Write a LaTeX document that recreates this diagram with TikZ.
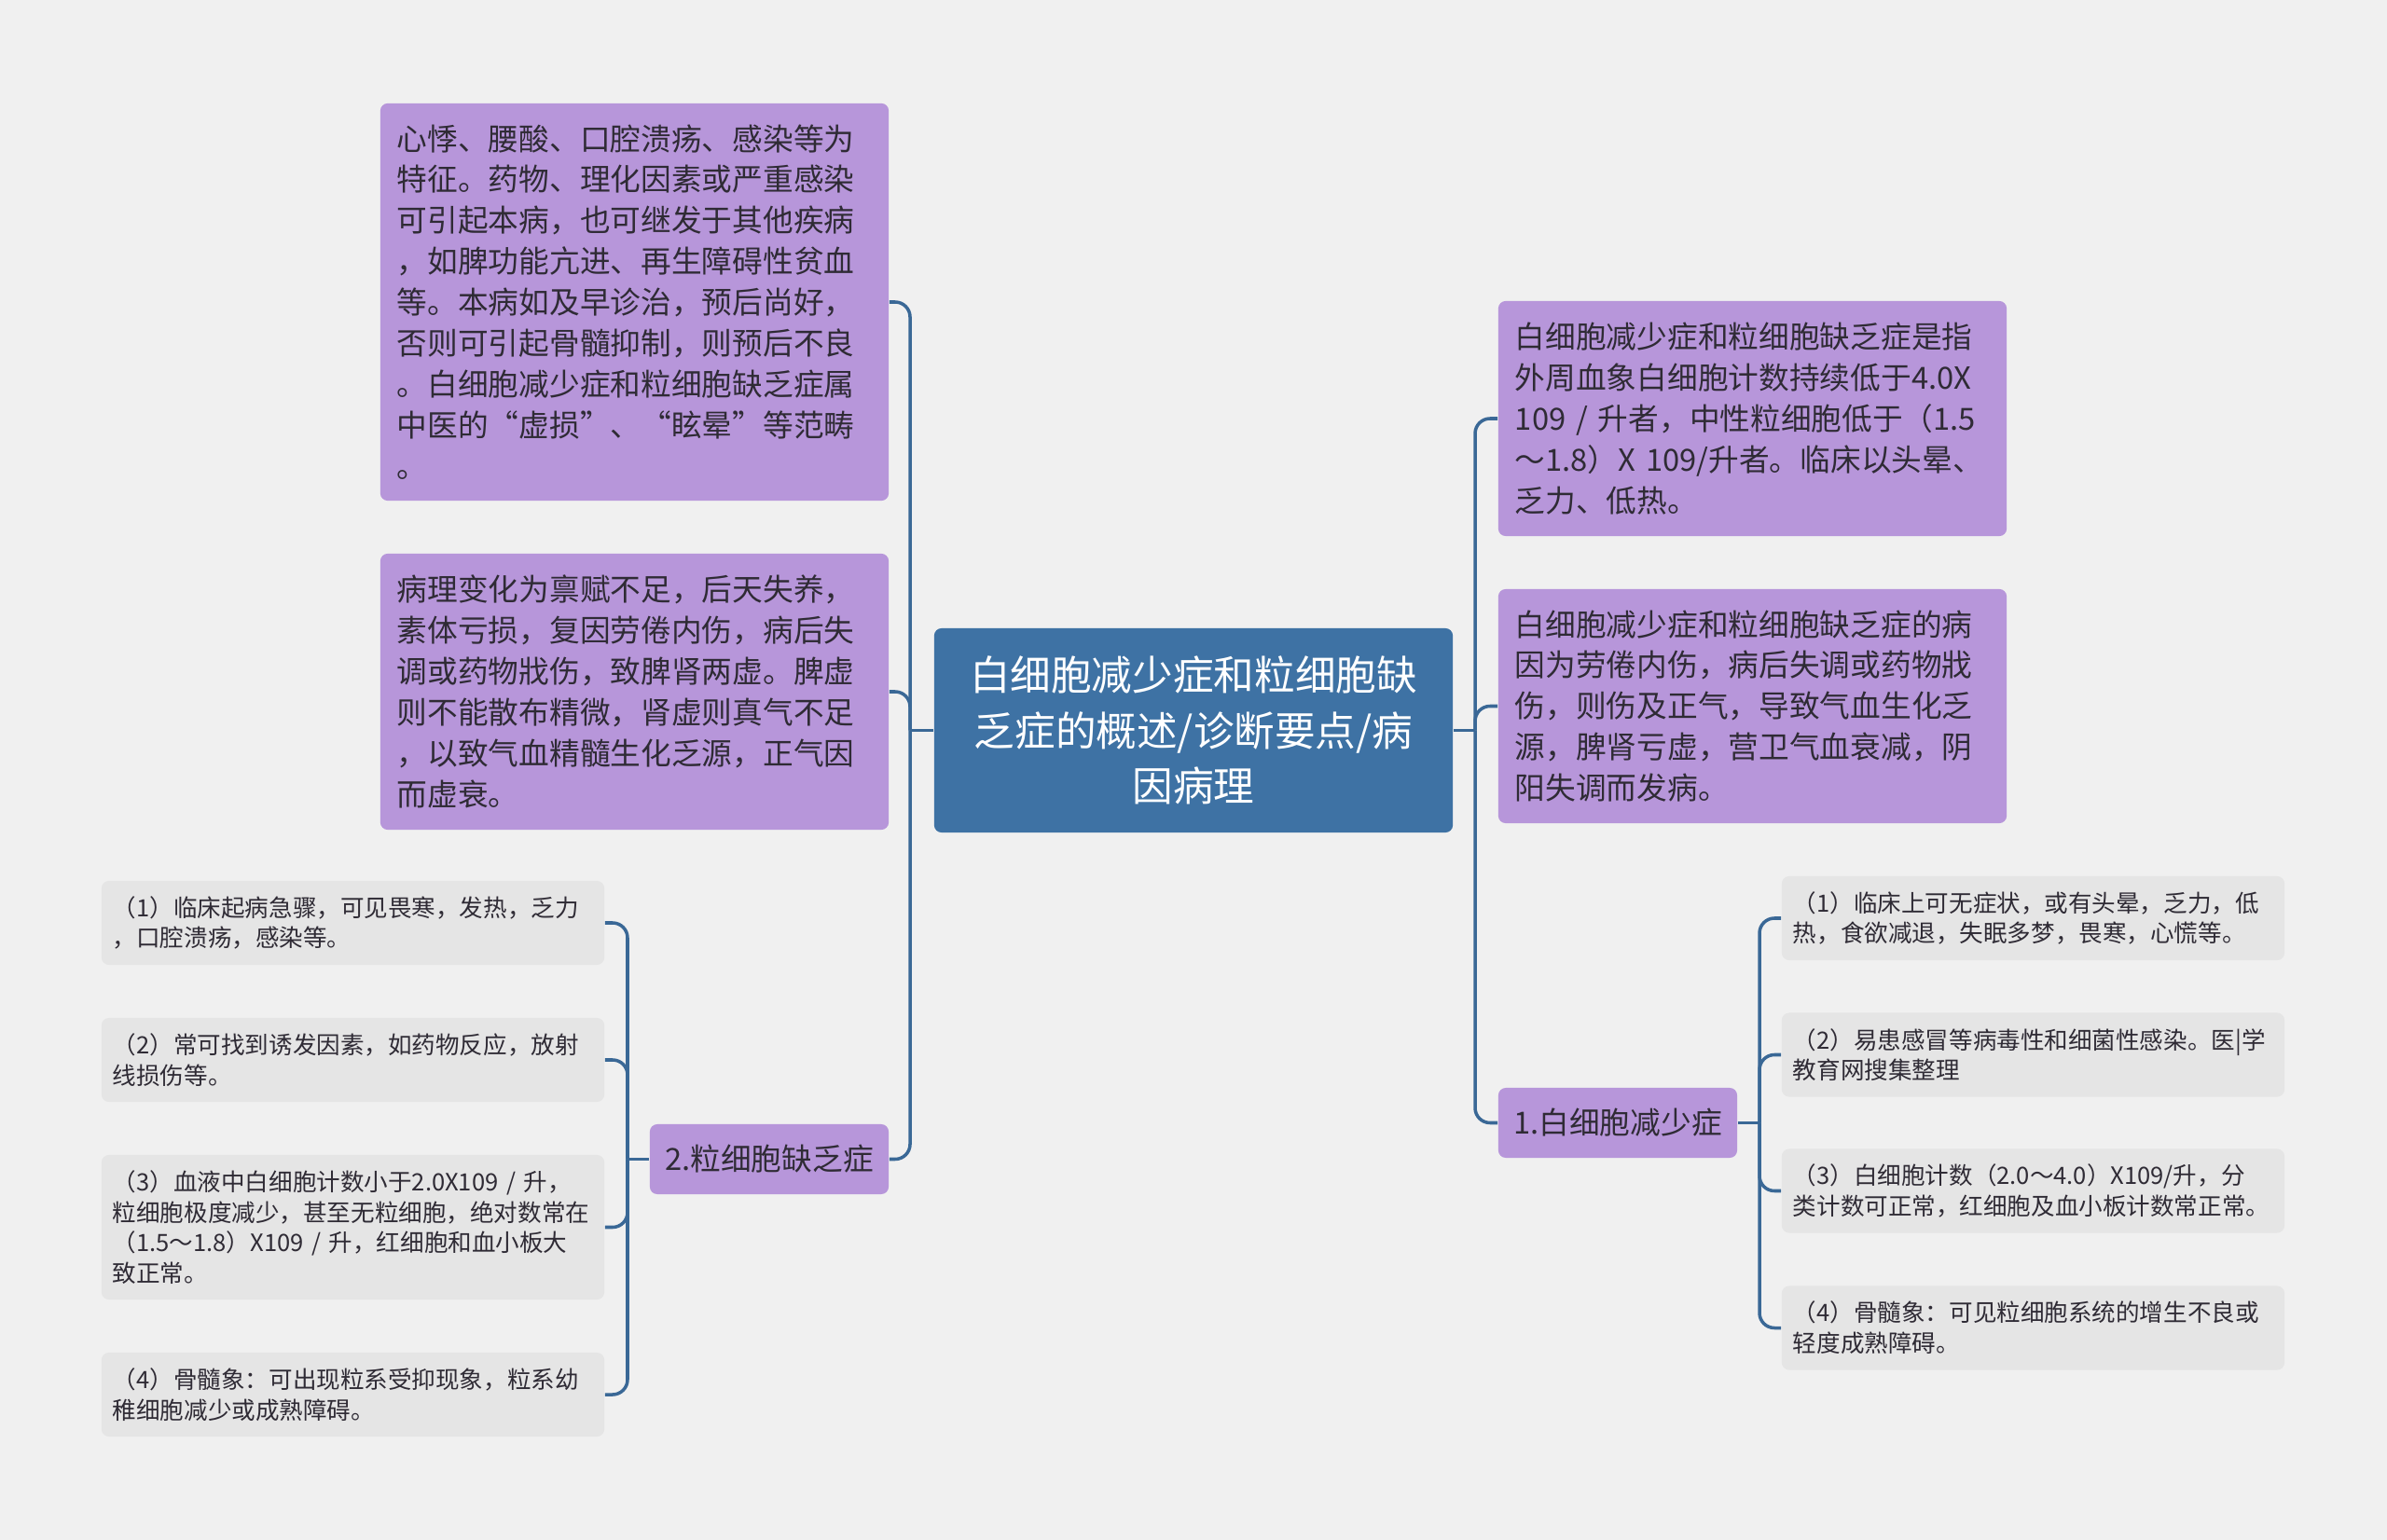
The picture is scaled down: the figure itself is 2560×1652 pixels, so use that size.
\documentclass[tikz,border=0pt]{standalone}
\usepackage{fontspec}
\setmainfont{Noto Sans CJK SC}
\usetikzlibrary{positioning}
\definecolor{bgc}{HTML}{F0F0F0}
\definecolor{hubc}{HTML}{3E72A4}
\definecolor{topc}{HTML}{B796DA}
\definecolor{leafc}{HTML}{E5E5E5}
\definecolor{linkc}{HTML}{3A6896}
\definecolor{txtc}{HTML}{2F2B35}

\begin{document}
\begin{tikzpicture}[x=0.01cm,y=-0.01cm,
    hub/.style={fill=hubc,text=white,rounded corners=0.08cm,align=center,text width=5.2cm,minimum width=5.56cm,minimum height=2.19cm,font=\fontsize{12.4}{16.9}\selectfont},
    topic/.style={fill=topc,text=txtc,rounded corners=0.08cm,align=left,text width=5.09cm,inner xsep=0.18cm,font=\fontsize{9.3}{12.5}\selectfont},
    branch/.style={fill=topc,text=txtc,rounded corners=0.08cm,minimum width=2.56cm,minimum height=0.75cm,font=\fontsize{9.3}{12.5}\selectfont},
    leaf/.style={fill=leafc,text=txtc,rounded corners=0.08cm,align=left,text width=5.15cm,inner xsep=0.12cm,minimum height=0.9cm,font=\fontsize{7.27}{9.3}\selectfont},
    link/.style={draw=linkc,line width=1pt,rounded corners=0.16cm}]
    \useasboundingbox[fill=bgc] (0,0) rectangle (2560,1652);

    \node[hub] (c) at (1280,783.5) {白细胞减少症和粒细胞缺\\乏症的概述/诊断要点/病\\因病理};

    \node[topic,minimum height=4.26cm] (l1) at (680.5,324) {心悸、腰酸、口腔溃疡、感染等为\\特征。药物、理化因素或严重感染\\可引起本病，也可继发于其他疾病\\，如脾功能亢进、再生障碍性贫血\\等。本病如及早诊治，预后尚好，\\否则可引起骨髓抑制，则预后不良\\。白细胞减少症和粒细胞缺乏症属\\中医的“虚损”、“眩晕”等范畴\\。};
    \node[topic,minimum height=2.96cm] (l2) at (680.5,742) {病理变化为禀赋不足，后天失养，\\素体亏损，复因劳倦内伤，病后失\\调或药物戕伤，致脾肾两虚。脾虚\\则不能散布精微，肾虚则真气不足\\，以致气血精髓生化乏源，正气因\\而虚衰。};
    \node[branch] (b2) at (825,1243.5) {2.粒细胞缺乏症};

    \node[topic,minimum height=2.52cm] (r1) at (1879.5,449) {白细胞减少症和粒细胞缺乏症是指\\外周血象白细胞计数持续低于4.0X\\109 / 升者，中性粒细胞低于（1.5\\～1.8）X 109/升者。临床以头晕、\\乏力、低热。};
    \node[topic,minimum height=2.51cm] (r2) at (1879.5,757.5) {白细胞减少症和粒细胞缺乏症的病\\因为劳倦内伤，病后失调或药物戕\\伤，则伤及正气，导致气血生化乏\\源，脾肾亏虚，营卫气血衰减，阴\\阳失调而发病。};
    \node[branch] (b1) at (1735,1204.5) {1.白细胞减少症};

    \node[leaf] (ll1) at (378.5,990) {（1）临床起病急骤，可见畏寒，发热，乏力\\，口腔溃疡，感染等。};
    \node[leaf] (ll2) at (378.5,1137) {（2）常可找到诱发因素，如药物反应，放射\\线损伤等。};
    \node[leaf,minimum height=1.55cm] (ll3) at (378.5,1316.5) {（3）血液中白细胞计数小于2.0X109 / 升，\\粒细胞极度减少，甚至无粒细胞，绝对数常在\\（1.5～1.8）X109 / 升，红细胞和血小板大\\致正常。};
    \node[leaf] (ll4) at (378.5,1496) {（4）骨髓象：可出现粒系受抑现象，粒系幼\\稚细胞减少或成熟障碍。};

    \node[leaf] (rl1) at (2180.5,985) {（1）临床上可无症状，或有头晕，乏力，低\\热，食欲减退，失眠多梦，畏寒，心慌等。};
    \node[leaf] (rl2) at (2180.5,1131.5) {（2）易患感冒等病毒性和细菌性感染。医|学\\教育网搜集整理};
    \node[leaf] (rl3) at (2180.5,1277.5) {（3）白细胞计数（2.0～4.0）X109/升，分\\类计数可正常，红细胞及血小板计数常正常。};
    \node[leaf] (rl4) at (2180.5,1424.5) {（4）骨髓象：可见粒细胞系统的增生不良或\\轻度成熟障碍。};

    \coordinate (lj) at (976,783.5);
    \coordinate (rj) at (1582,783.5);
    \coordinate (bj2) at (673,1243.5);
    \coordinate (bj1) at (1887,1204.5);

    \draw[link] (c.west) -- (lj);
    \draw[link] (lj) |- (l1.east);
    \draw[link] (lj) |- (l2.east);
    \draw[link] (lj) |- (b2.east);
    \draw[link] (c.east) -- (rj);
    \draw[link] (rj) |- (r1.west);
    \draw[link] (rj) |- (r2.west);
    \draw[link] (rj) |- (b1.west);
    \draw[link] (b2.west) -- (bj2);
    \draw[link] (bj2) |- (ll1.east);
    \draw[link] (bj2) |- (ll2.east);
    \draw[link] (bj2) |- (ll3.east);
    \draw[link] (bj2) |- (ll4.east);
    \draw[link] (b1.east) -- (bj1);
    \draw[link] (bj1) |- (rl1.west);
    \draw[link] (bj1) |- (rl2.west);
    \draw[link] (bj1) |- (rl3.west);
    \draw[link] (bj1) |- (rl4.west);
\end{tikzpicture}
\end{document}
